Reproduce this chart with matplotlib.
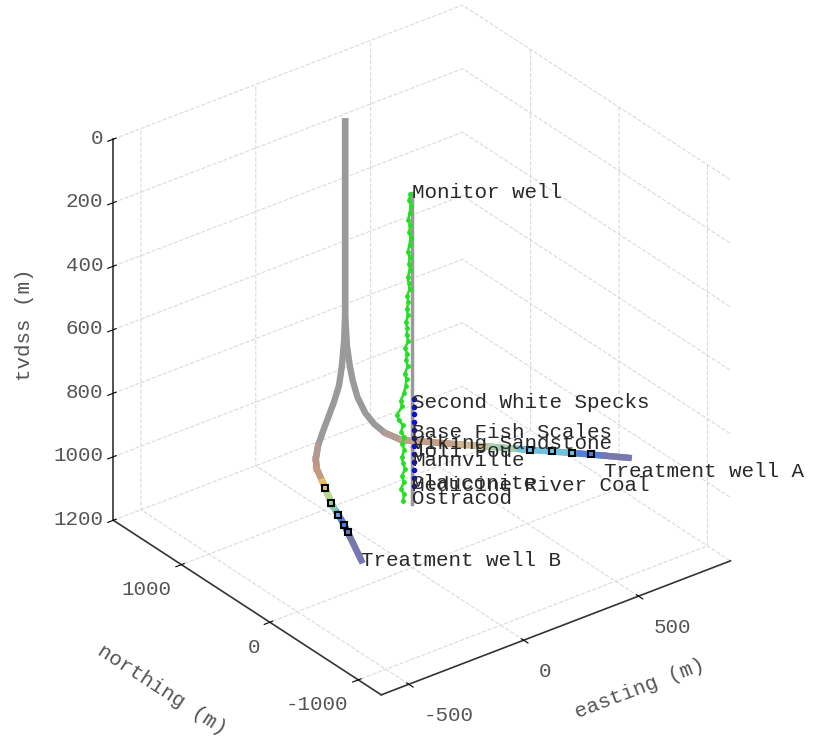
import matplotlib
matplotlib.use("Agg")
import matplotlib.pyplot as plt
from matplotlib.transforms import IdentityTransform
from mpl_toolkits.mplot3d import proj3d

plt.rcParams['grid.color'] = '#dadada'
plt.rcParams['grid.linestyle'] = '--'
plt.rcParams['grid.linewidth'] = 0.8
FONT = 'Liberation Mono'

# ---- Treatment well A (easting, northing, tvdss) ----
wellA_e = [103, 103, 59, 37, 9, -19, -40, -47, -45, -24, 122, 195, 268, 414, 474, 534]
wellA_n = [1027, 1027, 892, 803, 697, 570, 426, 308, 190, 56, -233, -379, -524, -814, -937, -1061]
wellA_z = [0, 616, 680, 720, 740, 762, 780, 791, 798, 802, 804, 805, 806, 808, 809, 810]
stageA_start = 8
stageA_colors = ['#b39a94', '#c4a088', '#d0b890', '#a8d0b0', '#70c0e0', '#5080d8', '#7878b0']

# ---- Treatment well B ----
wellB_e = [103, 103, 72, 16, -35, -90, -142, -212, -282, -339, -376, -413, -448, -483, -501, -520, -556, -617]
wellB_n = [1027, 1027, 958, 837, 737, 652, 575, 460, 334, 210, 104, -57, -203, -349, -453, -556, -728, -1027]
wellB_z = [0, 616, 680, 720, 750, 772, 787, 796, 800, 802, 803, 804, 805, 806, 807, 808, 810, 820]
stageB_start = 8
stageB_colors = ['#b39a94', '#b8958a', '#c49a80', '#e8c060', '#b8d890', '#80d0b0', '#60a8e8', '#4a80e0', '#7878b0']

# perforation markers
perfA_e = [292, 346, 397, 443]
perfA_n = [-572, -679, -780, -873]
perfA_z = [806, 807, 808, 808]
perfB_e = [-433, -477, -506, -530, -551]
perfB_n = [-142, -325, -478, -606, -703]
perfB_z = [805, 806, 807, 808, 809]

# ---- Monitor well ----
mon_e = [0, 0]
mon_n = [0, 0]
mon_z = [20, 1000]

# green log along monitor well: easting offset (m) vs tvdss
log_z = [20, 40, 60, 80, 100, 120, 140, 160, 180, 200, 220, 240, 260, 280, 300, 320, 340,
         360, 380, 400, 420, 440, 460, 480, 500, 520, 540, 560, 580, 600, 620, 640, 660,
         680, 700, 720, 740, 760, 780, 800, 820, 840, 860, 880, 900, 920, 940, 960, 980]
log_off = [-8, -14, -6, -11, -17, -9, -14, -7, -12, -19, -11, -15, -9, -20, -15, -12, -22,
           -17, -24, -19, -28, -21, -25, -18, -30, -23, -27, -20, -32, -25, -29, -36, -50,
           -44, -66, -58, -41, -48, -36, -43, -34, -46, -39, -32, -44, -37, -49, -35, -42]

# geophones
geo_z = [670, 695, 720, 745, 770, 795, 820, 845, 870, 895, 920, 945]

# formation tops
tops_names = ['Second White Specks', 'Base Fish Scales', 'Viking Sandstone', 'Joli Fou',
              'Mannville', 'Glauconite', 'Medicine River Coal', 'Ostracod']
tops_z = [679, 774, 808, 836, 862, 934, 940, 981]

# well labels
lab_names = ['Monitor well', 'Treatment well A', 'Treatment well B']
lab_e = [0, 462, -617]
lab_n = [0, -969, -1027]
lab_z = [20, 850, 820]

# axes
xlim = (-620, 900)
ylim = (-1260, 1770)
zlim = (1200, 0)
xticks = [-500, 0, 500]
yticks = [-1000, 0, 1000]
zticks = [0, 200, 400, 600, 800, 1000, 1200]

W, H = 814, 740
fig = plt.figure(figsize=(W / 100, H / 100), dpi=100)
ax = fig.add_axes([0.006, 0.0135, 1, 1], projection='3d')
ax.computed_zorder = False
ax.set_proj_type('ortho')
ax.view_init(elev=30, azim=-127.5)
ax.set_xlim(*xlim)
ax.set_ylim(*ylim)
ax.set_zlim(*zlim)
ax.set_box_aspect((1, 1, 1), zoom=1.0)

for a in (ax.xaxis, ax.yaxis, ax.zaxis):
    a.set_pane_color((1, 1, 1, 0))
    a.pane.set_edgecolor((1, 1, 1, 0))
    a.line.set_color('#333333')
    a.line.set_linewidth(1.2)

grey = '#9a9a9a'
ax.plot(wellA_e, wellA_n, wellA_z, color=grey, lw=4.6, zorder=2, solid_capstyle='butt')
ax.plot(wellB_e, wellB_n, wellB_z, color=grey, lw=4.6, zorder=2, solid_capstyle='butt')
for i, c in enumerate(stageA_colors):
    j = stageA_start + i
    ax.plot(wellA_e[j:j + 2], wellA_n[j:j + 2], wellA_z[j:j + 2], color=c, lw=4.6, zorder=3)
for i, c in enumerate(stageB_colors):
    j = stageB_start + i
    ax.plot(wellB_e[j:j + 2], wellB_n[j:j + 2], wellB_z[j:j + 2], color=c, lw=4.6, zorder=3)
ax.plot(perfA_e, perfA_n, perfA_z, ls='none', marker='s', ms=5, mfc='none', mec='k', mew=1.5, zorder=4)
ax.plot(perfB_e, perfB_n, perfB_z, ls='none', marker='s', ms=5, mfc='none', mec='k', mew=1.5, zorder=4)

ax.plot(mon_e, mon_n, mon_z, color=grey, lw=2.5, zorder=2)
log_e = [mon_e[0] + o for o in log_off]
log_n = [mon_n[0] for _ in log_off]
ax.plot(log_e, log_n, log_z, color='#22e022', lw=1.8, marker='.', ms=5, zorder=5)
ax.plot([mon_e[0] + 8] * len(geo_z), [mon_n[0]] * len(geo_z), geo_z, ls='none', marker='.',
        ms=6, color='#1010d0', zorder=6)

for name, z in zip(tops_names, tops_z):
    ax.text(mon_e[0], mon_n[0], z, name, ha='left', va='center', fontsize=15,
            family=FONT, color='#2a2a2a', zorder=10)
for name, e, n, z in zip(lab_names, lab_e, lab_n, lab_z):
    ax.text(e, n, z, name, ha='left', va='center', fontsize=15,
            family=FONT, color='#2a2a2a', zorder=10)

ax.set_xticks(xticks)
ax.set_yticks(yticks)
ax.set_zticks(zticks)
ax.set_xticklabels([''] * len(xticks))
ax.set_yticklabels([''] * len(yticks))
ax.set_zticklabels([''] * len(zticks))

# tick labels placed at the projected tick positions
fig.canvas.draw()
M = ax.get_proj()


def to_px(x, y, z):
    xs, ys, _ = proj3d.proj_transform(x, y, z, M)
    return ax.transData.transform((xs, ys))


tkw = dict(family=FONT, fontsize=15, color='#555555', transform=IdentityTransform())
for v in xticks:
    px, py = to_px(v, ylim[0], zlim[0])
    fig.text(px + 15, py - 31, f'{v}', ha='left', va='center', **tkw)
for v in yticks:
    px, py = to_px(xlim[0], v, zlim[0])
    fig.text(px - 10, py - 25, f'{v}', ha='right', va='center', **tkw)
for v in zticks:
    px, py = to_px(xlim[0], ylim[1], v)
    fig.text(px - 10, py + 1, f'{v}', ha='right', va='center', **tkw)

akw = dict(family=FONT, fontsize=15, color='#555555', ha='center', va='center')
fig.text(640 / W, 1 - 688 / H, 'easting (m)', rotation=21, **akw)
fig.text(162 / W, 1 - 690 / H, 'northing (m)', rotation=-33, **akw)
fig.text(25 / W, 1 - 325 / H, 'tvdss (m)', rotation=90, **akw)

fig.savefig('out.png', dpi=100)
